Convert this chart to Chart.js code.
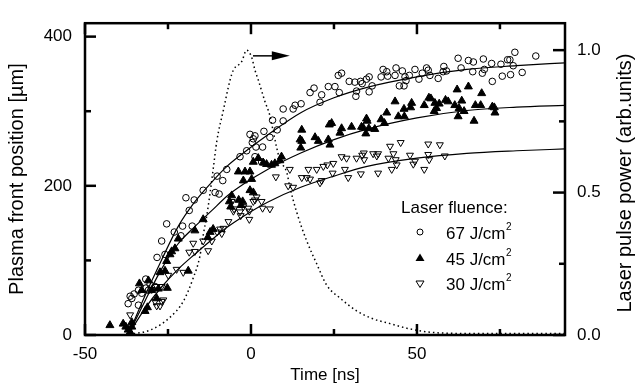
<!DOCTYPE html>
<html><head><meta charset="utf-8">
<script src="https://cdn.jsdelivr.net/npm/chart.js@4"></script>
<style>html,body{margin:0;padding:0;background:#fff;}canvas{display:block;}</style>
</head><body>
<canvas id="c" width="642" height="389"></canvas>
<script>
// ---- data ----
const t67 = [-37.0,-36.4,-35.9,-35.2,-33.9,-33.9,-32.9,-31.7,-31.6,-30.9,-30.4,-28.9,-28.3,-25.9,-26.9,-25.4,-23.1,-21.1,-20.6,-17.7,-18.6,-19.6,-17.1,-14.4,-10.8,-9.6,-8.5,-10.2,-7.3,
 -3.3,-1.3,-0.3,0.7,1.2,0.4,1.5,3.5,1.2,3.2,3.9,5.7,6.5,7.9,9.7,9.7,12.7,13.3,15.1,17.8,19.0,20.8,21.3,23.3,25.3,26.6,26.3,27.3,29.6,
 31.3,33.0,33.5,34.8,35.6,36.5,31.8,31.6,35.6,39.2,39.8,40.9,41.2,43.4,43.7,45.6,46.7,46.4,44.7,46.1,47.7,49.4,50.6,51.6,52.9,53.4,53.9,56.4,58.1,57.9,58.9,
 62.4,63.3,65.5,67.0,66.8,70.0,69.7,70.3,72.5,72.7,75.3,75.7,77.3,78.0,79.5,79.0,78.2,81.7,85.8];
const v67 = [42,52,49,55,60,40,56,75,63,60,68,65,104,108,126,149,138,133,146,146,167,184,181,194,191,189,207,213,222,
 239,247,269,263,267,258,252,252,239,232,273,265,288,275,303,287,303,308,310,325,331,312,322,333,333,325,348,351,340,
 339,340,337,343,346,334,327,320,326,346,356,353,347,348,358,354,341,346,334,334,348,356,343,351,358,355,348,344,360,353,354,
 371,358,368,366,353,370,351,356,364,340,363,347,369,369,379,361,349,352,374];

const t45 = [-42.5,-38.5,-37.7,-37.0,-36.4,-35.9,-35.9,-33.6,-32.9,-31.9,
 -31.2,-30.9,-29.9,-28.4,-27.9,-27.4,-25.9,-25.2,-25.4,-24.4,
 -23.9,-22.9,-21.9,-18.9,-16.9,-14.4,-13.0,-12.3,-11.4,-6.5,
 -6.1,-5.8,-3.7,-3.0,-2.5,-3.8,-1.8,-0.3,-2.3,0.2,
 -0.3,0.7,0.7,2.2,3.7,4.7,6.2,7.2,8.7,9.2,
 15.0,15.3,14.8,15.3,19.3,20.3,23.3,23.8,23.6,24.3,
 26.8,27.3,30.3,33.3,33.8,34.8,35.0,35.5,37.3,34.6,
 39.2,40.2,40.9,43.4,44.4,46.2,46.1,48.4,48.1,52.2,
 53.6,54.2,55.4,55.9,55.2,56.7,58.6,59.4,62.1,65.5,
 69.5,63.5,61.4,62.7,64.2,62.4,67.2,67.6,69.2,72.7,
 73.3,73.5];
const v45 = [13,15,11,7,4,11,17,69,60,32,
 37,73,60,49,62,84,86,63,99,108,
 112,116,129,86,140,155,131,138,142,179,
 172,187,181,174,179,219,219,219,207,209,
 194,191,232,237,231,229,228,230,234,239,
 251,260,262,275,265,260,262,255,282,284,
 271,277,279,279,278,290,287,277,276,270,
 289,284,298,313,293,293,303,311,305,308,
 318,317,311,304,300,310,315,313,329,333,
 324,314,308,304,300,293,287,308,308,306,
 305,298];

const t30 = [-36.4,-28.9,-26.9,-27.4,-28.4,-26.4,-28.4,-26.9,-29.9,-24.9,
 -22.4,-20.4,-18.6,-17.4,-16.9,-12.9,-14.4,-11.8,-10.2,-8.8,
 -9.3,-8.3,-6.8,-5.8,-5.3,-5.1,-3.3,-3.1,-2.3,-0.5,
 -0.5,0.7,1.7,1.2,3.2,3.5,5.7,-0.8,7.5,11.7,
 11.2,12.7,15.3,16.8,17.8,17.3,19.8,21.3,20.8,21.8,
 23.0,24.8,24.6,27.3,28.8,28.3,29.3,31.8,33.5,34.0,
 34.1,36.8,37.9,38.3,41.4,41.9,42.9,43.6,43.9,42.4,
 45.1,47.9,48.9,49.4,52.2,53.4,53.4,53.7,56.9,58.4,
 38.3,33.1];
const v30 = [27,45,45,39,39,47,65,65,61,80,
 88,84,111,123,112,113,126,126,138,136,
 142,143,152,179,166,169,165,160,172,166,
 155,179,185,181,179,170,169,170,212,222,
 200,198,211,211,209,222,222,207,204,226,
 228,230,217,239,237,222,211,237,241,244,
 235,243,240,243,237,253,243,235,228,222,
 258,241,229,233,222,256,242,235,255,240,
 217,216];

// fitted curves
const fitT  = [-37,-32,-27,-22,-17,-12,-7,-2,5,15,25,35,50,65,80,95];
const fit67 = [0,52,100,145,178,204,227,245,268,298,318,332,346,356,361,365];
const fit45 = [0,45,88,122,145,166,187,203,222,244,262,276,291,301,305.5,308];
const fit30 = [0,35,64,88,108,127,145,160,178,198,213,226,237,243.5,247,249.5];

// laser pulse (right axis)
const pulseT = [-38,-36.4,-30.4,-24.4,-20.4,-17.4,-15.4,-14.4,-13.3,-12.3,-11.3,-10.3,-8.3,-6.3,-5.3,-2.8,-1.3,0.2,1.2,2.2,4.2,5.7,6.7,7.7,8.7,10.8,11.7,13.8,16.8,19.8,22.8,26.8,31.8,36.7,41.9,46.9,52.9,60,70,80,95];
const pulseP = [0,0.003,0.017,0.062,0.118,0.2,0.276,0.35,0.42,0.5,0.59,0.68,0.79,0.895,0.93,0.96,1.0,0.975,0.93,0.895,0.82,0.77,0.715,0.66,0.615,0.57,0.52,0.43,0.33,0.25,0.175,0.13,0.085,0.057,0.04,0.024,0.011,0.006,0.005,0.005,0.005];

// axes
const xTickVals = [-50,-25,0,25,50,75];
const xLabelVals = [-50,0,50];
const yTickVals = [0,100,200,300,400];
const yLabelVals = [0,200,400];
const y2TickVals = [0,0.25,0.5,0.75,1.0];
const y2LabelVals = [0,0.5,1.0];
const arrowT = [0.6, 11.7];
const arrowP = 0.98;

const seriesNames = ['67 J/cm', '45 J/cm', '30 J/cm'];
const legendTitle = 'Laser fluence:';

// ---- chart ----
const FAM = "'Liberation Sans', Arial, sans-serif";
const tickFont = {family: FAM, size: 17};
const titleFont = {family: FAM, size: 20};
const pts = (xs, ys) => xs.map((v, i) => ({x: v, y: ys[i]}));

const overlay = {
  id: 'overlay',
  afterDraw(chart) {
    const {ctx, chartArea: a, scales} = chart;
    const x = scales.x, y = scales.y, y2 = scales.y2;
    ctx.save();
    ctx.setLineDash([]);
    ctx.strokeStyle = '#000'; ctx.fillStyle = '#000';
    const T = 2.5;
    // inward tick marks
    xTickVals.forEach(v => {
      const px = x.getPixelForValue(v), L = xLabelVals.includes(v) ? 11 : 6;
      ctx.fillRect(px - T / 2, a.bottom - L, T, L);
      ctx.fillRect(px - T / 2, a.top, T, L);
    });
    yTickVals.forEach(v => {
      const py = y.getPixelForValue(v), L = yLabelVals.includes(v) ? 11 : 6;
      ctx.fillRect(a.left, py - T / 2, L, T);
    });
    y2TickVals.forEach(v => {
      const py = y2.getPixelForValue(v), L = y2LabelVals.includes(v) ? 12 : 6;
      ctx.fillRect(a.right - L, py - T / 2, L, T);
    });
    ctx.lineWidth = 2.5;
    ctx.strokeRect(a.left, a.top, a.right - a.left, a.bottom - a.top);

    // arrow
    const ax0 = x.getPixelForValue(arrowT[0]), ax1 = x.getPixelForValue(arrowT[1]);
    const ay = y2.getPixelForValue(arrowP);
    ctx.lineWidth = 1.5;
    ctx.beginPath(); ctx.moveTo(ax0, ay); ctx.lineTo(ax1 - 12, ay); ctx.stroke();
    ctx.beginPath(); ctx.moveTo(ax1, ay); ctx.lineTo(ax1 - 18, ay - 4.5); ctx.lineTo(ax1 - 18, ay + 4.5); ctx.closePath(); ctx.fill();

    // legend
    ctx.font = `17px ${FAM}`;
    ctx.textAlign = 'left'; ctx.textBaseline = 'alphabetic';
    ctx.fillText(legendTitle, 401, 213);
    const rows = [232, 258, 284];
    const base = [238.5, 264.5, 290];
    rows.forEach((ry, i) => {
      const mx = 420;
      ctx.lineWidth = 1;
      if (i === 0) { ctx.beginPath(); ctx.arc(mx, ry, 3, 0, Math.PI * 2); ctx.stroke(); }
      else if (i === 1) { ctx.beginPath(); ctx.moveTo(mx, ry - 4.5); ctx.lineTo(mx + 4.5, ry + 3); ctx.lineTo(mx - 4.5, ry + 3); ctx.closePath(); ctx.fill(); }
      else { ctx.beginPath(); ctx.moveTo(mx, ry + 3.5); ctx.lineTo(mx + 4, ry - 3); ctx.lineTo(mx - 4, ry - 3); ctx.closePath(); ctx.stroke(); }
      ctx.font = `17px ${FAM}`;
      ctx.fillText(seriesNames[i], 446, base[i]);
      const w = ctx.measureText(seriesNames[i]).width;
      ctx.font = `10px ${FAM}`;
      ctx.fillText('2', 446 + w + 0.5, base[i] - 9);
    });

    // right axis title (reads bottom to top)
    ctx.font = `20px ${FAM}`;
    ctx.translate(631, (a.top + a.bottom) / 2 + 4);
    ctx.rotate(-Math.PI / 2);
    ctx.textAlign = 'center'; ctx.textBaseline = 'alphabetic';
    ctx.fillText('Laser pulse power (arb.units)', 0, 0);
    ctx.restore();
  }
};

new Chart(document.getElementById('c'), {
  type: 'scatter',
  data: {
    datasets: [
      {data: pts(t67, v67), yAxisID: 'y', pointStyle: 'circle', pointRadius: 3.3, borderColor: '#000', backgroundColor: 'rgba(0,0,0,0)', borderWidth: 1},
      {data: pts(t45, v45), yAxisID: 'y', pointStyle: 'triangle', pointRadius: 4.6, borderColor: '#000', backgroundColor: '#000', borderWidth: 1},
      {data: pts(t30, v30), yAxisID: 'y', pointStyle: 'triangle', rotation: 180, pointRadius: 4, borderColor: '#000', backgroundColor: 'rgba(0,0,0,0)', borderWidth: 1},
      {type: 'line', data: pts(fitT, fit67), yAxisID: 'y', borderColor: '#000', borderWidth: 1.2, pointRadius: 0, cubicInterpolationMode: 'monotone', fill: false},
      {type: 'line', data: pts(fitT, fit45), yAxisID: 'y', borderColor: '#000', borderWidth: 1.2, pointRadius: 0, cubicInterpolationMode: 'monotone', fill: false},
      {type: 'line', data: pts(fitT, fit30), yAxisID: 'y', borderColor: '#000', borderWidth: 1.2, pointRadius: 0, cubicInterpolationMode: 'monotone', fill: false},
      {type: 'line', data: pts(pulseT, pulseP), yAxisID: 'y2', borderColor: '#000', borderWidth: 1.5, borderDash: [1.5, 3], pointRadius: 0, cubicInterpolationMode: 'monotone', fill: false}
    ]
  },
  options: {
    responsive: false, animation: false,
    layout: {padding: {top: 11, left: 0, right: 0, bottom: 0}},
    plugins: {legend: {display: false}, tooltip: {enabled: false}},
    scales: {
      x: {
        type: 'linear', position: 'bottom', min: -50, max: 94.6,
        grid: {display: false, drawTicks: false}, border: {display: false},
        afterBuildTicks: s => { s.ticks = xLabelVals.map(v => ({value: v})); },
        ticks: {font: tickFont, color: '#000', padding: 9, maxRotation: 0, autoSkip: false, callback: v => String(v)},
        title: {display: true, text: 'Time [ns]', font: tickFont, color: '#000', padding: {top: 0, bottom: 3}},
        afterFit: s => { s.height = 54; }
      },
      y: {
        type: 'linear', position: 'left', min: 0, max: 418,
        grid: {display: false, drawTicks: false}, border: {display: false},
        afterBuildTicks: s => { s.ticks = yLabelVals.map(v => ({value: v})); },
        ticks: {font: tickFont, color: '#000', padding: 13, autoSkip: false, callback: v => String(v)},
        title: {display: true, text: 'Plasma front position [\u00b5m]', font: titleFont, color: '#000', padding: {top: 5, bottom: 0}},
        afterFit: s => { s.width = 85; }
      },
      y2: {
        type: 'linear', position: 'right', min: 0, max: 1.0946,
        grid: {display: false, drawTicks: false}, border: {display: false},
        afterBuildTicks: s => { s.ticks = y2LabelVals.map(v => ({value: v})); },
        ticks: {font: tickFont, color: '#000', padding: 12, autoSkip: false, callback: v => Number(v).toFixed(1)},
        afterFit: s => { s.width = 77; }
      }
    }
  },
  plugins: [overlay]
});
</script>
</body></html>
